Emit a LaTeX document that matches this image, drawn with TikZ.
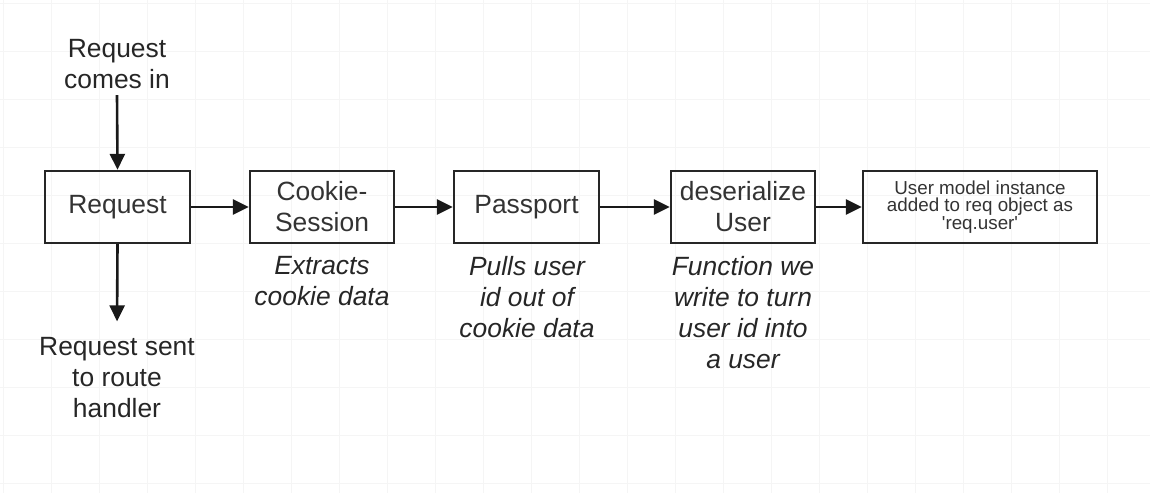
\documentclass[tikz,border=0pt]{standalone}
\usepackage{fontspec}
\setmainfont{Liberation Sans}
\usetikzlibrary{arrows.meta}
\tikzset{
  gridline/.style={black!4, line width=0.5pt},
  box/.style={draw=black!85, line width=1.2pt, minimum height=36pt, inner sep=1pt, align=center,
    font=\fontsize{13.2}{15.5}\selectfont, text=black!80},
  smallbox/.style={box, font=\fontsize{9.4}{8.9}\selectfont},
  note/.style={align=center, inner sep=3pt, font=\fontsize{13.2}{15.5}\selectfont\itshape, text=black!85},
  label/.style={align=center, inner sep=3pt, font=\fontsize{13.2}{15.5}\selectfont, text=black!85},
  flow/.style={-{Triangle[length=8pt,width=7.5pt]}, line width=1.3pt, black!90},
}
\begin{document}
\begin{tikzpicture}[x=0.5pt,y=-0.5pt]
    \useasboundingbox (0,0) rectangle (1150,493);
    % Griglia di sfondo
    \foreach \gx in {3,51,...,1150} \draw[gridline] (\gx,0) -- (\gx,493);
    \foreach \gy in {3,51,...,493} \draw[gridline] (0,\gy) -- (1150,\gy);

    % Blocchi della catena
    \node[box, minimum width=72.5pt] (req)    at (117.5,207) {Request};
    \node[box, minimum width=72pt]   (cookie) at (322,207)   {Cookie-\\Session};
    \node[box, minimum width=72.5pt] (pass)   at (526.5,207) {Passport};
    \node[box, minimum width=72pt]   (deser)  at (743,207)   {deserialize\\User};
    \node[smallbox, minimum width=117pt] (usr) at (980,207)
        {User model instance\\added to req object as\\\textquotesingle req.user\textquotesingle};

    % Testi in ingresso e in uscita
    \node[label] (in)  at (117,64)  {Request\\comes in};
    \node[label] (out) at (117,378) {Request sent\\to route\\handler};

    % Note sotto i blocchi
    \node[note, anchor=north] (ncookie) at (322,250) {Extracts\\cookie data};
    \node[note, anchor=north] (npass)   at (527,250) {Pulls user\\id out of\\cookie data};
    \node[note, anchor=north] (ndeser)  at (743,250) {Function we\\write to turn\\user id into\\a user};

    % Frecce
    \draw[flow] (in.south) -- (req.north);
    \draw[flow, shorten >=5pt] (req.south) -- (out.north);
    \draw[flow] (req) -- (cookie);
    \draw[flow] (cookie) -- (pass);
    \draw[flow] (pass) -- (deser);
    \draw[flow] (deser) -- (usr);
\end{tikzpicture}
\end{document}
